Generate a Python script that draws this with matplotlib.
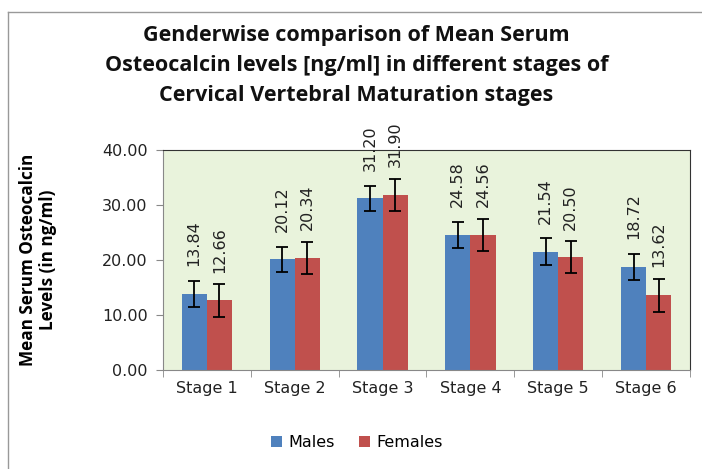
import matplotlib.pyplot as plt
import numpy as np

stages = ['Stage 1', 'Stage 2', 'Stage 3', 'Stage 4', 'Stage 5', 'Stage 6']
males = [13.84, 20.12, 31.20, 24.58, 21.54, 18.72]
females = [12.66, 20.34, 31.90, 24.56, 20.50, 13.62]
males_err = [2.4, 2.3, 2.3, 2.35, 2.45, 2.4]
females_err = [3.0, 2.9, 2.9, 2.9, 2.9, 3.0]

fig = plt.figure(figsize=(7.02, 4.69), dpi=100)
ax = fig.add_axes([0.232, 0.211, 0.751, 0.469])
ax.set_facecolor('#E9F3DC')

x = np.arange(len(stages))
w = 1 / 3.5
ekw = dict(ecolor='black', capsize=4, elinewidth=1.3, capthick=1.3)
b1 = ax.bar(x - w / 2, males, w, color='#4F81BD', yerr=males_err, error_kw=ekw, label='Males', zorder=2)
b2 = ax.bar(x + w / 2, females, w, color='#C0504D', yerr=females_err, error_kw=ekw, label='Females', zorder=2)

# data labels, rotated like excel
for bars, vals in [(b1, males), (b2, females)]:
    for r, v in zip(bars, vals):
        ax.annotate('%.2f' % v, (r.get_x() + r.get_width() / 2, v), xytext=(0, 20),
                    textcoords='offset points', rotation=90, ha='center', va='bottom',
                    fontsize=11.5, color='#222222', annotation_clip=False)

ax.set_xlim(-0.5, 5.5)
ax.set_ylim(0, 40)
ax.set_yticks([0, 10, 20, 30, 40])
ax.set_yticklabels(['%.2f' % t for t in [0, 10, 20, 30, 40]], fontsize=11.5, color='#222222')
ax.set_xticks(x)
ax.set_xticklabels(stages, fontsize=11.5, color='#222222')
ax.tick_params(axis='x', length=0, pad=8)
ax.set_xticks(np.arange(-0.5, 6, 1), minor=True)
ax.tick_params(axis='x', which='minor', length=5, color='#888888')
ax.tick_params(axis='y', length=5, color='#888888', pad=6)

for s in ['left', 'bottom']:
    ax.spines[s].set_color('#888888')
for s in ['top', 'right']:
    ax.spines[s].set_color('#333333')

ax.set_ylabel('Mean Serum Osteocalcin\nLevels (in ng/ml)', fontsize=12.3, fontweight='bold',
              family='Open Sans', labelpad=32, linespacing=1.15)

fig.text(0.508, 1 - 25 / 469, 'Genderwise comparison of Mean Serum\nOsteocalcin levels [ng/ml] in different stages of\nCervical Vertebral Maturation stages',
         ha='center', va='top', fontsize=15.5, fontweight='bold', family='Open Sans', color='#111111',
         linespacing=1.55)

fig.legend(handles=[b1, b2], loc='center', bbox_to_anchor=(0.508, 0.057), ncol=2, frameon=False,
           fontsize=11.5, handlelength=0.7, handleheight=0.7, columnspacing=1.5, handletextpad=0.4)

# outer chart border (top and left edges visible)
fig.add_artist(plt.Line2D([0.012, 0.012], [0, 1 - 12 / 469], color='#999999', lw=1))
fig.add_artist(plt.Line2D([0.012, 1], [1 - 12 / 469, 1 - 12 / 469], color='#999999', lw=1))

fig.savefig('out.png', dpi=100)
